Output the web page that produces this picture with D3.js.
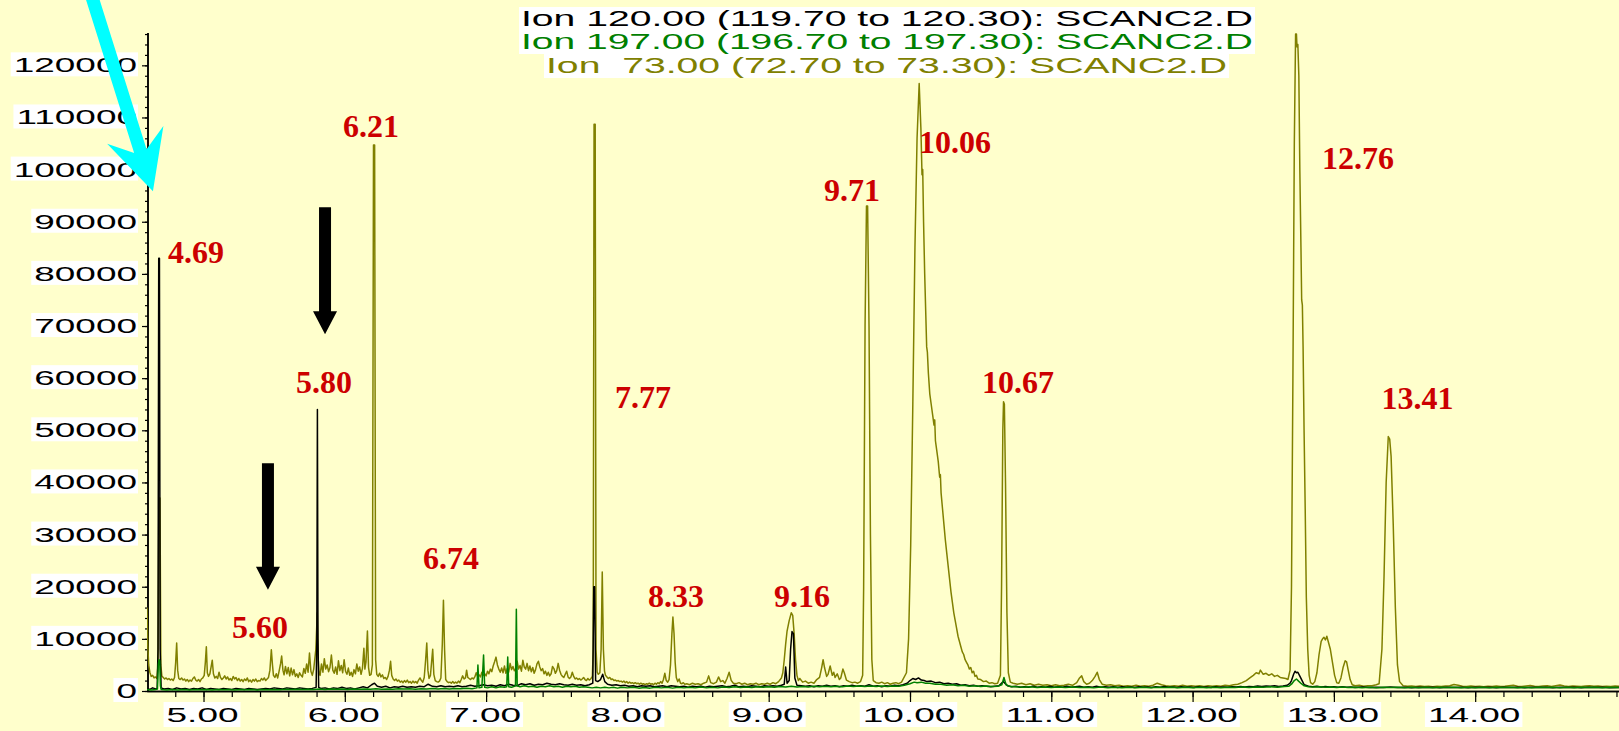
<!DOCTYPE html>
<html><head><meta charset="utf-8">
<script src="https://cdn.jsdelivr.net/npm/d3@7"></script>
<style>html,body{margin:0;padding:0;background:#FFFFCC;overflow:hidden}</style>
</head><body><svg id="c" width="1619" height="731"></svg>
<script>
// Ion 73.00 (olive)
const ion73 = [[4.600,16000],[4.605,9000],[4.612,5000],[4.62,3600],[4.63,2800],[4.64,3000],[4.65,2500],[4.66,2700],[4.67,2400],[4.678,5000],[4.684,37000],[4.692,37000],[4.698,5000],[4.705,2900],[4.715,2600],[4.725,2300],[4.735,2500],[4.745,2200],[4.755,2400],[4.765,2100],[4.775,2300],[4.785,2000],[4.795,2600],[4.803,5500],[4.810,9200],[4.817,4000],[4.825,2400],[4.835,2200],[4.845,2500],[4.855,2100],[4.865,2300],[4.875,1900],[4.885,2200],[4.895,1800],[4.905,2100],[4.915,1900],[4.925,2400],[4.935,2700],[4.945,2100],[4.955,1900],[4.965,2200],[4.975,1800],[4.985,2300],[4.995,2500],[5.005,3000],[5.013,5500],[5.020,8500],[5.027,3500],[5.035,2800],[5.045,3300],[5.055,4800],[5.062,5900],[5.070,3300],[5.080,2500],[5.090,2800],[5.100,2400],[5.110,3600],[5.120,2600],[5.130,2200],[5.140,2500],[5.150,2900],[5.160,2300],[5.170,2700],[5.180,2100],[5.190,2400],[5.200,2000],[5.210,2800],[5.220,2300],[5.230,2600],[5.240,2000],[5.250,2400],[5.260,1900],[5.270,2200],[5.280,1800],[5.290,2300],[5.300,2000],[5.310,2500],[5.320,1800],[5.330,2100],[5.340,1700],[5.350,2200],[5.360,1900],[5.370,2300],[5.380,1800],[5.390,2000],[5.400,1900],[5.410,2400],[5.420,2100],[5.430,2500],[5.440,2000],[5.450,2300],[5.460,2600],[5.470,4000],[5.480,7900],[5.488,5000],[5.495,3000],[5.505,2600],[5.515,3300],[5.525,2500],[5.535,3800],[5.545,5200],[5.553,6700],[5.562,4000],[5.570,3100],[5.580,4700],[5.590,3300],[5.600,4500],[5.610,2900],[5.620,4400],[5.630,3100],[5.640,4100],[5.650,2800],[5.660,3300],[5.670,2600],[5.680,3500],[5.690,3000],[5.700,2700],[5.710,4300],[5.720,3400],[5.730,5200],[5.740,3600],[5.750,7300],[5.760,3800],[5.770,3000],[5.780,4200],[5.795,8000],[5.805,15000],[5.812,6000],[5.818,3400],[5.825,3000],[5.835,5200],[5.845,3600],[5.855,6200],[5.865,4200],[5.875,5000],[5.885,3700],[5.895,4500],[5.905,6900],[5.915,4000],[5.925,3400],[5.935,4600],[5.945,3200],[5.955,5800],[5.965,3900],[5.975,4900],[5.985,3500],[5.995,6000],[6.005,3800],[6.015,3200],[6.025,4400],[6.035,3000],[6.045,3600],[6.055,2800],[6.065,4100],[6.075,3300],[6.085,5200],[6.095,3800],[6.105,4600],[6.115,3200],[6.125,4400],[6.135,8200],[6.142,4200],[6.150,5600],[6.160,11500],[6.168,4500],[6.176,3000],[6.186,3200],[6.195,5000],[6.203,104700],[6.211,104700],[6.218,6000],[6.226,3200],[6.236,2800],[6.246,3400],[6.256,2700],[6.266,3100],[6.276,2400],[6.286,2600],[6.296,2200],[6.306,2800],[6.316,4000],[6.324,5700],[6.332,3000],[6.342,2300],[6.352,2000],[6.362,2300],[6.372,1900],[6.382,2100],[6.392,1700],[6.402,1900],[6.412,1600],[6.422,2000],[6.432,1700],[6.442,2100],[6.452,1600],[6.462,1800],[6.472,1500],[6.482,1900],[6.492,1600],[6.502,1800],[6.512,1500],[6.522,2100],[6.532,2500],[6.542,2000],[6.552,1700],[6.562,2600],[6.572,6000],[6.580,9200],[6.588,4000],[6.596,2400],[6.606,3000],[6.614,5500],[6.622,8000],[6.630,3200],[6.640,2000],[6.650,1800],[6.660,1700],[6.670,1900],[6.680,2500],[6.690,9000],[6.698,17400],[6.706,8000],[6.714,2200],[6.724,1800],[6.734,1600],[6.744,1700],[6.754,1500],[6.764,1800],[6.774,1500],[6.784,1700],[6.794,1500],[6.804,1900],[6.814,1600],[6.824,2200],[6.834,2900],[6.844,2300],[6.854,2500],[6.862,4000],[6.870,2600],[6.880,2400],[6.890,2200],[6.900,2500],[6.910,2300],[6.920,2700],[6.930,3500],[6.940,2800],[6.950,3100],[6.960,2700],[6.970,3600],[6.980,3000],[6.990,3300],[7.000,2900],[7.010,3800],[7.020,3300],[7.030,4200],[7.040,3700],[7.050,4800],[7.060,5600],[7.070,6500],[7.080,5000],[7.090,4200],[7.100,3600],[7.110,4400],[7.120,3500],[7.130,4800],[7.140,3400],[7.150,4300],[7.160,3600],[7.170,5300],[7.180,4100],[7.190,4700],[7.200,3900],[7.210,4300],[7.220,5700],[7.230,4200],[7.240,4900],[7.250,3800],[7.260,5900],[7.270,4600],[7.280,4200],[7.290,5300],[7.300,3900],[7.310,4800],[7.320,3700],[7.330,4500],[7.340,3400],[7.350,4100],[7.360,5200],[7.370,5700],[7.380,4600],[7.390,3900],[7.400,4300],[7.410,3300],[7.420,3800],[7.430,3000],[7.440,3600],[7.450,2900],[7.460,3300],[7.470,4700],[7.480,4300],[7.490,3400],[7.500,3900],[7.510,5300],[7.520,4000],[7.530,3200],[7.540,2800],[7.550,2600],[7.560,3200],[7.570,3800],[7.580,2700],[7.590,2400],[7.600,2700],[7.610,3600],[7.620,2800],[7.630,2300],[7.640,2500],[7.650,2200],[7.660,2400],[7.670,2100],[7.680,2300],[7.690,2600],[7.700,2200],[7.710,2000],[7.720,2400],[7.730,2100],[7.740,2300],[7.752,2800],[7.758,8000],[7.764,108700],[7.772,108700],[7.778,8000],[7.786,3600],[7.794,3200],[7.805,3500],[7.814,8000],[7.822,22800],[7.830,8000],[7.838,3800],[7.845,3000],[7.855,2700],[7.865,2400],[7.875,2600],[7.885,2200],[7.895,2300],[7.905,2000],[7.915,2100],[7.925,1900],[7.935,2000],[7.945,1800],[7.955,1900],[7.965,1700],[7.975,1900],[7.985,1600],[7.995,1800],[8.005,1500],[8.015,1700],[8.025,1500],[8.035,1600],[8.045,1400],[8.055,1600],[8.065,1400],[8.075,1500],[8.085,1300],[8.095,1500],[8.105,1300],[8.115,1400],[8.125,1200],[8.135,1400],[8.145,1300],[8.155,1500],[8.165,1300],[8.175,1400],[8.185,1200],[8.195,1500],[8.205,1300],[8.215,1600],[8.225,1400],[8.235,1800],[8.245,1500],[8.255,2200],[8.265,3400],[8.275,2000],[8.285,1700],[8.295,2200],[8.305,5000],[8.315,11000],[8.322,14200],[8.330,11000],[8.338,5500],[8.346,2600],[8.356,1800],[8.366,2300],[8.376,1500],[8.386,1400],[8.396,1600],[8.406,1300],[8.42,1400],[8.44,1200],[8.46,1500],[8.48,1300],[8.50,1400],[8.52,1200],[8.54,1500],[8.56,1700],[8.575,2900],[8.59,1600],[8.61,1400],[8.63,1700],[8.645,2700],[8.66,1800],[8.675,2000],[8.69,1500],[8.705,2400],[8.72,3600],[8.735,2000],[8.75,1500],[8.77,1400],[8.79,1600],[8.81,1300],[8.83,1500],[8.85,1200],[8.87,1400],[8.89,1300],[8.91,1500],[8.93,1200],[8.95,1400],[8.97,1300],[8.99,1500],[9.01,1300],[9.03,1600],[9.05,1400],[9.07,1800],[9.09,2500],[9.10,3500],[9.11,6000],[9.12,9000],[9.13,11500],[9.145,13500],[9.16,15000],[9.17,14500],[9.18,11000],[9.19,6000],[9.20,3000],[9.21,2000],[9.22,2400],[9.24,1700],[9.26,1900],[9.28,1500],[9.30,1700],[9.32,1500],[9.34,2200],[9.36,2600],[9.375,4500],[9.385,6000],[9.395,4500],[9.41,2800],[9.42,3200],[9.435,4800],[9.45,3000],[9.46,3600],[9.47,2600],[9.485,3300],[9.50,2200],[9.51,2500],[9.525,4200],[9.535,3500],[9.55,2100],[9.57,1800],[9.59,1600],[9.61,1700],[9.63,1500],[9.65,1800],[9.665,3000],[9.672,20000],[9.682,70000],[9.692,93000],[9.700,93000],[9.710,70000],[9.720,30000],[9.730,6000],[9.74,2000],[9.76,1600],[9.78,1500],[9.80,1700],[9.82,1400],[9.84,1600],[9.86,1300],[9.88,1500],[9.90,1600],[9.92,1400],[9.94,1700],[9.975,3500],[9.99,10000],[10.005,28000],[10.02,55000],[10.035,85000],[10.05,106000],[10.065,116500],[10.077,108000],[10.085,99000],[10.09,100000],[10.096,90000],[10.104,80000],[10.112,72000],[10.118,66000],[10.123,65000],[10.13,61000],[10.14,57000],[10.15,55000],[10.16,53000],[10.17,51000],[10.175,52000],[10.18,48000],[10.19,46000],[10.20,44000],[10.21,41000],[10.215,41500],[10.22,38000],[10.23,35000],[10.24,32000],[10.25,29000],[10.26,26500],[10.27,24000],[10.28,21500],[10.29,19000],[10.30,17000],[10.31,15000],[10.32,13500],[10.33,12000],[10.34,10500],[10.35,9500],[10.36,8500],[10.37,7500],[10.38,7000],[10.39,6000],[10.40,5500],[10.41,5000],[10.42,4200],[10.43,4500],[10.44,3500],[10.45,3800],[10.46,2800],[10.47,3000],[10.48,2300],[10.50,2200],[10.52,1800],[10.54,1900],[10.56,1500],[10.58,1600],[10.60,1400],[10.62,1500],[10.64,3000],[10.648,20000],[10.657,50000],[10.662,55500],[10.668,55000],[10.676,40000],[10.686,15000],[10.696,3500],[10.71,1700],[10.73,1500],[10.76,1300],[10.79,1500],[10.82,1200],[10.85,1400],[10.88,1100],[10.91,1300],[10.94,1100],[10.97,1200],[11.00,1000],[11.03,1200],[11.06,1000],[11.09,1100],[11.12,1300],[11.15,1100],[11.18,1600],[11.20,2500],[11.215,2900],[11.23,1800],[11.25,1300],[11.27,1500],[11.29,2000],[11.31,2800],[11.325,3600],[11.34,2200],[11.36,1300],[11.39,1100],[11.42,1200],[11.45,1000],[11.48,1100],[11.51,900],[11.54,1000],[11.57,900],[11.60,1100],[11.63,900],[11.66,1000],[11.69,900],[11.72,1100],[11.75,1500],[11.78,1200],[11.81,1000],[11.84,900],[11.87,1000],[11.90,900],[11.93,1100],[11.96,900],[11.99,1000],[12.02,900],[12.05,1000],[12.08,850],[12.11,1000],[12.14,900],[12.17,1000],[12.20,900],[12.23,1100],[12.26,1000],[12.29,1200],[12.32,1300],[12.35,1600],[12.38,2000],[12.41,2600],[12.43,3000],[12.45,3500],[12.47,3300],[12.48,4000],[12.50,3200],[12.52,3400],[12.54,3000],[12.56,3300],[12.58,2800],[12.60,3000],[12.62,2600],[12.64,2500],[12.66,2400],[12.675,2200],[12.69,4000],[12.70,20000],[12.71,60000],[12.72,105000],[12.729,126000],[12.735,126000],[12.739,123500],[12.745,124000],[12.752,118000],[12.759,100000],[12.767,85000],[12.772,75000],[12.777,74000],[12.782,66000],[12.789,50000],[12.797,35000],[12.805,18000],[12.815,8000],[12.825,3000],[12.835,1600],[12.85,1300],[12.865,1800],[12.88,3500],[12.895,7000],[12.91,9500],[12.92,10000],[12.93,10300],[12.94,9800],[12.95,10500],[12.96,9500],[12.975,8000],[12.99,5500],[13.005,3000],[13.02,1600],[13.035,1500],[13.05,2500],[13.065,4500],[13.08,5800],[13.09,5600],[13.10,4200],[13.115,2200],[13.13,1200],[13.15,1000],[13.18,1100],[13.21,900],[13.24,1000],[13.27,1000],[13.30,1200],[13.32,1400],[13.34,8000],[13.355,22000],[13.37,40000],[13.385,48800],[13.395,48300],[13.405,45000],[13.42,32000],[13.435,16000],[13.45,5000],[13.465,1800],[13.49,1000],[13.52,900],[13.55,950],[13.58,850],[13.61,950],[13.64,850],[13.67,900],[13.70,800],[13.73,900],[13.76,850],[13.79,950],[13.82,1000],[13.85,1250],[13.88,1100],[13.91,900],[13.94,850],[13.97,950],[14.00,850],[14.03,900],[14.06,800],[14.09,900],[14.12,850],[14.15,950],[14.18,850],[14.21,900],[14.24,1000],[14.27,1100],[14.30,900],[14.33,850],[14.36,950],[14.39,1050],[14.42,900],[14.45,850],[14.48,950],[14.51,1000],[14.54,850],[14.57,1000],[14.60,1150],[14.63,950],[14.66,850],[14.69,950],[14.72,900],[14.75,850],[14.78,950],[14.81,1000],[14.84,900],[14.87,950],[14.90,850],[14.93,900],[14.96,850],[14.99,950],[15.02,900]];

// Ion 120.00 (black)
const ion120 = [[4.60,500],[4.62,300],[4.64,600],[4.66,400],[4.672,500],[4.678,8000],[4.683,83000],[4.688,83000],[4.693,8000],[4.70,600],[4.72,400],[4.75,500],[4.78,300],[4.81,600],[4.84,400],[4.87,500],[4.90,300],[4.93,500],[4.96,400],[4.99,600],[5.02,300],[5.05,500],[5.08,400],[5.11,300],[5.14,500],[5.17,400],[5.20,300],[5.23,500],[5.26,400],[5.29,300],[5.32,500],[5.35,400],[5.38,300],[5.41,400],[5.44,500],[5.47,400],[5.50,600],[5.53,500],[5.56,400],[5.59,600],[5.62,500],[5.65,400],[5.68,600],[5.71,500],[5.74,400],[5.77,500],[5.797,700],[5.802,10000],[5.806,54000],[5.810,10000],[5.815,700],[5.83,500],[5.86,600],[5.89,400],[5.92,600],[5.95,500],[5.98,700],[6.01,500],[6.04,600],[6.07,400],[6.10,600],[6.13,800],[6.16,600],[6.19,1200],[6.21,1500],[6.23,900],[6.26,700],[6.29,900],[6.32,600],[6.35,800],[6.38,700],[6.41,900],[6.44,700],[6.47,800],[6.50,700],[6.53,900],[6.56,800],[6.59,1300],[6.62,900],[6.65,800],[6.68,1000],[6.71,800],[6.74,900],[6.77,800],[6.80,1000],[6.83,800],[6.86,900],[6.89,1100],[6.92,900],[6.95,1000],[6.98,1200],[7.01,1000],[7.04,1100],[7.07,900],[7.10,1200],[7.13,1000],[7.16,1300],[7.19,1100],[7.22,1000],[7.25,1400],[7.28,1200],[7.31,1400],[7.34,1100],[7.37,1300],[7.40,1200],[7.43,1500],[7.46,1300],[7.49,1200],[7.52,1400],[7.55,1200],[7.58,1100],[7.61,1300],[7.64,1100],[7.67,1200],[7.70,1000],[7.73,1200],[7.755,1500],[7.762,20000],[7.768,20000],[7.775,2000],[7.79,1800],[7.81,2200],[7.825,3200],[7.84,1800],[7.86,1300],[7.89,1100],[7.92,1200],[7.95,1000],[7.98,1100],[8.01,900],[8.04,1000],[8.07,800],[8.10,1000],[8.13,900],[8.16,1000],[8.19,800],[8.22,900],[8.25,1000],[8.28,800],[8.31,1000],[8.34,900],[8.37,800],[8.40,900],[8.43,700],[8.46,900],[8.49,800],[8.52,900],[8.55,700],[8.58,900],[8.61,800],[8.64,900],[8.67,1000],[8.70,800],[8.73,900],[8.76,1100],[8.79,800],[8.82,900],[8.85,800],[8.88,1000],[8.91,900],[8.94,800],[8.97,1000],[9.00,900],[9.03,1000],[9.06,900],[9.09,1100],[9.11,1300],[9.12,4600],[9.13,1500],[9.145,2000],[9.155,8000],[9.165,11400],[9.175,11000],[9.185,2500],[9.20,1100],[9.23,1000],[9.26,900],[9.29,1000],[9.32,800],[9.35,1000],[9.38,900],[9.41,1100],[9.44,900],[9.47,1000],[9.50,800],[9.53,1000],[9.56,900],[9.59,1100],[9.62,900],[9.65,1000],[9.68,900],[9.71,1200],[9.74,900],[9.77,1000],[9.80,800],[9.83,1000],[9.86,900],[9.89,1100],[9.92,1000],[9.95,1200],[9.98,1500],[10.00,2000],[10.02,2400],[10.04,2200],[10.06,2500],[10.08,2100],[10.10,2000],[10.12,1800],[10.15,1900],[10.18,1600],[10.21,1700],[10.24,1400],[10.27,1500],[10.30,1300],[10.33,1400],[10.36,1100],[10.39,1200],[10.42,1000],[10.45,1100],[10.48,900],[10.51,1000],[10.54,900],[10.57,800],[10.60,900],[10.63,1000],[10.66,1800],[10.69,1000],[10.72,800],[10.75,900],[10.78,700],[10.81,800],[10.84,700],[10.87,900],[10.90,700],[10.93,800],[10.96,700],[10.99,900],[11.02,700],[11.05,800],[11.08,700],[11.11,900],[11.14,700],[11.17,800],[11.20,900],[11.23,700],[11.26,800],[11.29,700],[11.32,900],[11.35,700],[11.38,800],[11.41,700],[11.44,800],[11.47,650],[11.50,800],[11.53,700],[11.56,750],[11.59,650],[11.62,800],[11.65,700],[11.68,750],[11.71,650],[11.74,800],[11.77,700],[11.80,850],[11.83,700],[11.86,750],[11.89,650],[11.92,800],[11.95,700],[11.98,750],[12.01,650],[12.04,800],[12.07,700],[12.10,750],[12.13,650],[12.16,800],[12.19,700],[12.22,750],[12.25,700],[12.28,800],[12.31,750],[12.34,850],[12.37,750],[12.40,850],[12.43,800],[12.46,950],[12.49,850],[12.52,950],[12.55,900],[12.58,1000],[12.61,850],[12.64,950],[12.67,1100],[12.69,1500],[12.70,2000],[12.715,3200],[12.725,3800],[12.735,3500],[12.745,3600],[12.76,2800],[12.775,2000],[12.79,1200],[12.82,900],[12.85,800],[12.88,900],[12.91,750],[12.94,850],[12.97,750],[13.00,800],[13.03,700],[13.06,800],[13.09,700],[13.12,750],[13.15,650],[13.20,750],[13.25,650],[13.30,700],[13.35,650],[13.40,750],[13.45,650],[13.50,700],[13.55,600],[13.60,700],[13.65,650],[13.70,700],[13.75,600],[13.80,700],[13.85,650],[13.90,700],[13.95,600],[14.00,700],[14.05,650],[14.10,700],[14.15,600],[14.20,700],[14.25,650],[14.30,700],[14.35,600],[14.40,700],[14.45,650],[14.50,700],[14.55,600],[14.60,700],[14.65,650],[14.70,700],[14.75,600],[14.80,700],[14.85,650],[14.90,700],[14.95,600],[15.02,650]];

// Ion 197.00 (green)
const ion197 = [[4.60,300],[4.63,200],[4.66,300],[4.674,400],[4.680,5000],[4.685,6000],[4.690,5800],[4.695,1000],[4.70,300],[4.74,200],[4.78,300],[4.82,200],[4.86,300],[4.90,200],[4.94,300],[4.98,250],[5.02,300],[5.06,200],[5.10,300],[5.14,250],[5.18,300],[5.22,200],[5.26,300],[5.30,250],[5.34,300],[5.38,200],[5.42,300],[5.46,250],[5.50,300],[5.54,250],[5.58,350],[5.62,300],[5.66,350],[5.70,300],[5.74,350],[5.78,300],[5.82,400],[5.86,300],[5.90,400],[5.94,350],[5.98,400],[6.02,300],[6.06,400],[6.10,350],[6.14,400],[6.18,350],[6.22,450],[6.26,350],[6.30,400],[6.34,350],[6.38,450],[6.42,400],[6.46,450],[6.50,350],[6.54,450],[6.58,400],[6.62,500],[6.66,400],[6.70,500],[6.74,400],[6.78,500],[6.82,450],[6.86,550],[6.90,450],[6.935,600],[6.942,5000],[6.950,600],[6.97,700],[6.982,6900],[6.990,700],[7.01,600],[7.04,800],[7.07,600],[7.10,800],[7.13,700],[7.146,800],[7.153,6500],[7.160,800],[7.18,700],[7.20,900],[7.208,1000],[7.214,15700],[7.220,1000],[7.24,800],[7.27,1000],[7.30,800],[7.33,900],[7.36,700],[7.39,900],[7.42,800],[7.45,1000],[7.48,800],[7.51,900],[7.54,700],[7.57,900],[7.60,800],[7.63,900],[7.66,700],[7.69,800],[7.72,700],[7.75,600],[7.78,700],[7.81,600],[7.84,700],[7.87,600],[7.90,700],[7.93,550],[7.96,700],[8.00,600],[8.04,700],[8.08,550],[8.12,650],[8.16,550],[8.20,700],[8.24,600],[8.28,700],[8.32,550],[8.36,700],[8.40,600],[8.44,700],[8.48,600],[8.52,750],[8.56,600],[8.60,700],[8.64,600],[8.68,750],[8.72,650],[8.76,800],[8.80,650],[8.84,750],[8.88,650],[8.92,800],[8.96,700],[9.00,800],[9.04,700],[9.08,850],[9.12,750],[9.16,900],[9.20,750],[9.24,850],[9.28,750],[9.32,900],[9.36,800],[9.40,900],[9.44,800],[9.48,900],[9.52,800],[9.56,950],[9.60,850],[9.64,950],[9.68,850],[9.72,950],[9.76,850],[9.80,950],[9.84,850],[9.88,950],[9.92,900],[9.96,1100],[10.00,1400],[10.03,1700],[10.05,1600],[10.08,1700],[10.11,1500],[10.14,1500],[10.18,1300],[10.22,1300],[10.26,1100],[10.30,1200],[10.34,1000],[10.38,1100],[10.42,900],[10.46,1000],[10.50,850],[10.54,950],[10.58,850],[10.62,900],[10.65,1200],[10.665,2600],[10.68,1200],[10.71,850],[10.75,800],[10.80,700],[10.85,800],[10.90,650],[10.95,750],[11.00,650],[11.05,750],[11.10,650],[11.15,750],[11.20,650],[11.25,700],[11.30,600],[11.35,750],[11.40,600],[11.45,700],[11.50,600],[11.55,700],[11.60,600],[11.65,700],[11.70,600],[11.75,700],[11.80,650],[11.85,700],[11.90,600],[11.95,700],[12.00,600],[12.05,700],[12.10,600],[12.15,700],[12.20,600],[12.25,700],[12.30,650],[12.35,750],[12.40,650],[12.45,750],[12.50,700],[12.55,800],[12.60,700],[12.65,850],[12.68,900],[12.70,1300],[12.72,2000],[12.735,2300],[12.75,1900],[12.77,1400],[12.79,1000],[12.82,800],[12.86,750],[12.90,800],[12.94,700],[12.98,750],[13.02,650],[13.06,750],[13.10,650],[13.15,700],[13.20,600],[13.25,700],[13.30,600],[13.35,700],[13.40,650],[13.45,700],[13.50,600],[13.55,700],[13.60,600],[13.65,700],[13.70,600],[13.75,700],[13.80,650],[13.85,700],[13.90,600],[13.95,700],[14.00,600],[14.05,700],[14.10,600],[14.15,700],[14.20,650],[14.25,700],[14.30,600],[14.35,700],[14.40,600],[14.45,700],[14.50,650],[14.55,700],[14.60,600],[14.65,700],[14.70,600],[14.75,700],[14.80,650],[14.85,700],[14.90,600],[14.95,700],[15.02,650]];

const xTickValues = [5, 6, 7, 8, 9, 10, 11, 12, 13, 14];
const xTickLabels = ["5.00", "6.00", "7.00", "8.00", "9.00", "10.00", "11.00", "12.00", "13.00", "14.00"];
const yTickValues = [0, 10000, 20000, 30000, 40000, 50000, 60000, 70000, 80000, 90000, 100000, 110000, 120000];
const legendLines = ["Ion 120.00 (119.70 to 120.30): SCANC2.D", "Ion 197.00 (196.70 to 197.30): SCANC2.D", "Ion  73.00 (72.70 to 73.30): SCANC2.D"];
const peakLabels = ["4.69", "5.60", "5.80", "6.21", "6.74", "7.77", "8.33", "9.16", "9.71", "10.06", "10.67", "12.76", "13.41"];
// label anchors (time, abundance) of the text's left baseline
const peakLabelAnchors = [[4.749, 82090], [5.202, 10165], [5.654, 57150], [5.987, 106250], [6.553, 23400], [7.912, 54280], [8.146, 16110], [9.038, 16110], [9.391, 93980], [10.064, 103180], [10.509, 57150], [12.916, 100110], [13.337, 54080]];
// black arrows: time, top abundance, tip abundance
const blackArrows = [[5.86, 92800, 68400], [5.456, 43700, 19400]];
// cyan arrow: tail (time, abundance) and tip (time, abundance)
const cyanArrow = [[4.200, 134000], [4.642, 95850]];

const svg = d3.select("#c");
const W = 1619, H = 731;
svg.append("rect").attr("width", W).attr("height", H).attr("fill", "#FFFFCC");

const x = d3.scaleLinear().domain([4.6, 15.02]).range([147, 1619.3]);
const y = d3.scaleLinear().domain([0, 126200]).range([691, 33]);

const AX = "'Liberation Sans', Arial, Helvetica, sans-serif";
const SX = 1.76;

// axes ticks
const gyMinor = svg.append("g").attr("transform", "translate(148,0)")
  .call(d3.axisLeft(y).tickValues(d3.range(0, 126001, 2000)).tickSize(3).tickSizeOuter(0).tickFormat(""));
const gyMajor = svg.append("g").attr("transform", "translate(148,0)")
  .call(d3.axisLeft(y).tickValues(yTickValues).tickSize(6).tickSizeOuter(0).tickFormat(""));
const gxMinor = svg.append("g").attr("transform", "translate(0,691)")
  .call(d3.axisBottom(x).tickValues(d3.range(4.8, 15.01, 0.2)).tickSize(6).tickSizeOuter(0).tickFormat(""));
const gxMajor = svg.append("g").attr("transform", "translate(0,691)")
  .call(d3.axisBottom(x).tickValues(xTickValues).tickSize(12).tickSizeOuter(0).tickFormat(""));
[gyMinor, gyMajor, gxMinor, gxMajor].forEach(g => {
  g.selectAll("line").attr("stroke", "#000").attr("stroke-width", 1.2);
  g.select(".domain").attr("stroke", "#000").attr("stroke-width", 1.5);
});
gyMajor.select(".domain").attr("d", `M0,${y(0)}V33`);
gyMinor.select(".domain").attr("d", `M0,${y(0)}V33`);

// y labels
yTickValues.forEach(v => {
  const g = svg.append("g");
  const t = g.append("text").attr("font-family", AX).attr("font-size", 21).attr("fill", "#000")
    .attr("text-anchor", "end").text(d3.format("d")(v))
    .attr("transform", `translate(137,${y(v) + 7}) scale(${SX},1)`);
  const w = t.node().getComputedTextLength() * SX;
  g.insert("rect", "text").attr("x", 137 - w - 3).attr("y", y(v) - 13).attr("width", w + 4).attr("height", 24).attr("fill", "#fff");
});
// x labels
xTickValues.forEach((v, i) => {
  const g = svg.append("g");
  const cx = x(v) - 1;
  const t = g.append("text").attr("font-family", AX).attr("font-size", 21).attr("fill", "#000")
    .attr("text-anchor", "middle").text(xTickLabels[i])
    .attr("transform", `translate(${cx},722) scale(${SX},1)`);
  const w = t.node().getComputedTextLength() * SX;
  g.insert("rect", "text").attr("x", cx - w / 2 - 3).attr("y", 702).attr("width", w + 5).attr("height", 25).attr("fill", "#fff");
});

// traces
const line = d3.line().x(d => x(d[0])).y(d => y(d[1]));
svg.append("clipPath").attr("id", "plot").append("rect").attr("x", 147).attr("y", 0).attr("width", W - 147).attr("height", 692);
const traces = svg.append("g").attr("clip-path", "url(#plot)");
traces.append("path").datum(ion73).attr("d", line).attr("fill", "none").attr("stroke", "#808000").attr("stroke-width", 1.5).attr("stroke-linejoin", "round");
traces.append("path").datum(ion120).attr("d", line).attr("fill", "none").attr("stroke", "#000000").attr("stroke-width", 1.5).attr("stroke-linejoin", "round");
traces.append("path").datum(ion197).attr("d", line).attr("fill", "none").attr("stroke", "#008000").attr("stroke-width", 1.5).attr("stroke-linejoin", "round");

// legend
const legendColors = ["#000000", "#008000", "#808000"];
const legendX = [[521, 1253], [521, 1253], [546, 1227]];
const legendBase = [26, 49, 73];
legendLines.forEach((s, i) => {
  const [x0, x1] = legendX[i];
  svg.append("rect").attr("x", x0 - 2).attr("y", legendBase[i] - 19).attr("width", x1 - x0 + 4).attr("height", 24).attr("fill", "#fff");
  svg.append("text").attr("x", x0).attr("y", legendBase[i]).attr("font-family", AX).attr("font-size", 22)
    .attr("fill", legendColors[i]).style("white-space", "pre").attr("xml:space", "preserve")
    .attr("textLength", x1 - x0).attr("lengthAdjust", "spacingAndGlyphs").text(s);
});

// peak labels
peakLabels.forEach((s, i) => {
  const [t, v] = peakLabelAnchors[i];
  svg.append("text").attr("x", x(t)).attr("y", y(v)).attr("font-family", "'Liberation Serif', 'Times New Roman', serif")
    .attr("font-weight", "bold").attr("font-size", 32).attr("fill", "#CC0000").text(s);
});

// black arrows
blackArrows.forEach(([t, v0, v1]) => {
  const cx = x(t), yt = y(v0), yp = y(v1);
  const hl = 23, sw = 6, hw = 12;
  const pts = [[cx - sw, yt], [cx + sw, yt], [cx + sw, yp - hl], [cx + hw, yp - hl], [cx, yp], [cx - hw, yp - hl], [cx - sw, yp - hl]];
  svg.append("polygon").attr("points", pts.map(p => p.join(",")).join(" ")).attr("fill", "#000");
});

// cyan arrow
{
  const tx = x(cyanArrow[0][0]), ty = y(cyanArrow[0][1]);
  const px = x(cyanArrow[1][0]), py = y(cyanArrow[1][1]);
  const dx = px - tx, dy = py - ty, L = Math.hypot(dx, dy);
  const u = [dx / L, dy / L], n = [u[1], -u[0]];
  const P = (a, b) => [px + u[0] * a + n[0] * b, py + u[1] * a + n[1] * b];
  const pts = [P(-L, -6.5), P(-42, -6.5), P(-59, -29.5), P(0, 0), P(-59, 29.5), P(-42, 6.5), P(-L, 6.5)];
  svg.append("polygon").attr("points", pts.map(p => p.join(",")).join(" ")).attr("fill", "#00FFFF");
}
</script></body></html>
